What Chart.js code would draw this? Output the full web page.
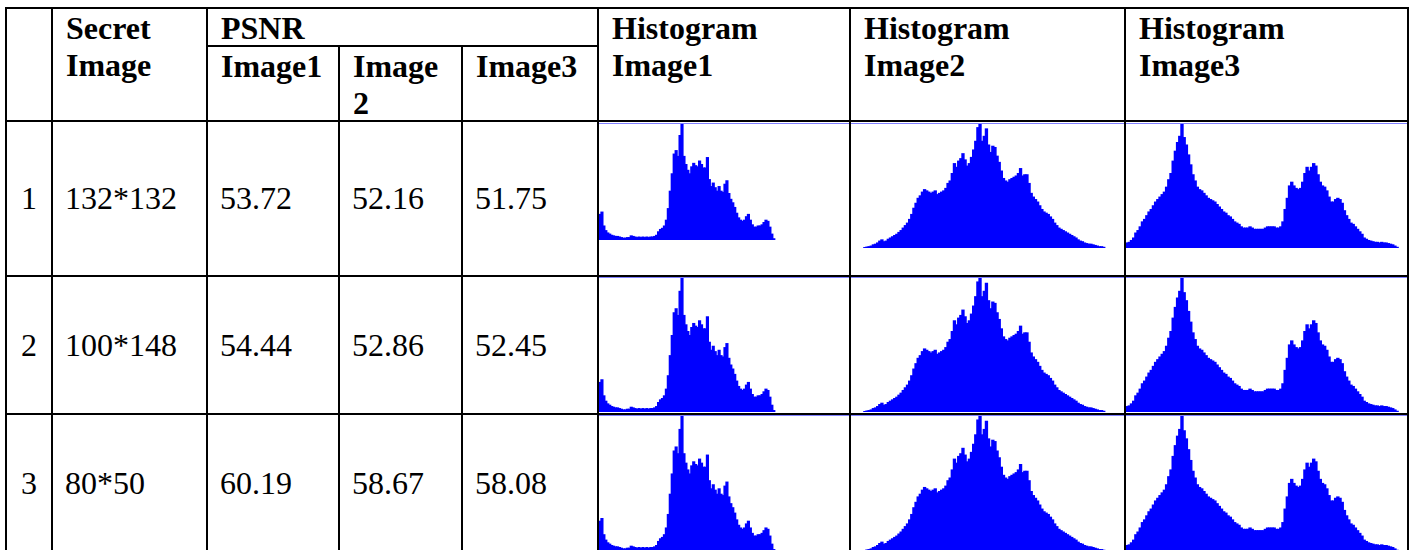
<!DOCTYPE html>
<html>
<head>
<meta charset="utf-8">
<script src="https://cdn.jsdelivr.net/npm/chart.js@4.4.1/dist/chart.umd.min.js"></script>
<style>
  html, body { margin: 0; padding: 0; background: #fff; }
  body { width: 1410px; height: 550px; overflow: hidden; position: relative; color: #000; }
  .cell { position: absolute; box-sizing: border-box; border: 2px solid #000; overflow: hidden;
          font-family: "Liberation Serif", "Times New Roman", serif; }
  .hd { font-weight: bold; font-size: 32px; line-height: 37px; padding: 1px 0 0 13px; }
  .bd { font-size: 32px; display: flex; align-items: center; padding-left: 12px; }
  .bd.center { justify-content: center; padding-left: 0; }
  .hist { position: absolute; border-top: 1px solid #8080ff; box-sizing: border-box; }
  .hist canvas { display: block; }
</style>
</head>
<body>
<div id="grid"></div>
<script>
// table values
const rowIds = ["1", "2", "3"];
const secretSizes = ["132*132", "100*148", "80*50"];
const psnrImage1 = [53.72, 54.44, 60.19];
const psnrImage2 = [52.16, 52.86, 58.67];
const psnrImage3 = [51.75, 52.45, 58.08];

// histograms, 128 bins of 2 gray levels, relative height (peak = 100)
const histImage1 = [
  22, 24, 12, 8, 6, 5, 4, 3.5, 3, 3,
  2.5, 2, 1.5, 1.5, 2, 2, 3.5, 3, 2.5, 2,
  2.5, 2, 2.5, 2, 2.5, 2, 2.5, 2.5, 3, 4,
  7, 9, 10, 12, 17, 27, 42, 57, 74, 77,
  72, 90, 100, 72, 65, 60, 57, 63, 66, 64,
  63, 68, 65, 62, 62, 71, 52, 46, 49, 45,
  42, 46, 42, 41, 48, 51, 40, 35, 32, 28,
  23, 19, 17, 16, 17, 20, 22, 17, 13, 11,
  11, 12, 12, 13, 15, 17, 16, 11, 5, 1,
  0, 0, 0, 0, 0, 0, 0, 0, 0, 0,
  0, 0, 0, 0, 0, 0, 0, 0, 0, 0,
  0, 0, 0, 0, 0, 0, 0, 0, 0, 0,
  0, 0, 0, 0, 0, 0, 0, 0
];
const histImage2 = [
  0, 0, 0, 0, 0, 0, 0.3, 0.7, 1, 1.5,
  2.5, 3, 4, 5.5, 6.5, 5, 5.5, 7, 8, 9,
  10, 11, 12.5, 14, 16, 18, 20, 23, 27, 32,
  36, 40, 42, 45, 47, 46, 45, 44, 45, 46,
  43, 44, 45, 46, 48, 52, 54, 60, 68, 65,
  70, 72, 76, 71, 66, 68, 73, 79, 86, 97,
  100, 86, 90, 96, 83, 77, 82, 81, 74, 69,
  62, 56, 54, 53, 55, 56, 57, 58, 60, 64,
  58, 59, 59, 52, 44, 41, 39, 37, 34, 31,
  29, 28, 27, 25, 23, 20, 18, 16, 15, 14,
  13, 12, 11, 10, 9, 8, 6.5, 5.5, 5, 4,
  3.5, 3, 3, 2.5, 2, 1.5, 1, 1, 0.5, 0,
  0, 0, 0, 0, 0, 0, 0, 0
];
const histImage3 = [
  4, 4.5, 6, 8, 12, 14, 17, 21, 23, 26,
  29, 31, 34, 37, 39, 41, 43, 45, 49, 55,
  60, 70, 78, 85, 90, 100, 89, 83, 75, 67,
  59, 54, 49, 47, 46, 44, 42, 40, 39, 38,
  37, 35, 33, 31, 29, 28, 26, 25, 23, 21,
  20, 19, 17, 16, 16, 16, 17, 16, 15, 15,
  15, 15, 15, 16, 17, 17, 17, 17, 16, 16,
  17, 21, 31, 40, 50, 53, 50, 48, 47, 48,
  53, 60, 65, 62, 65, 68, 66, 59, 53, 50,
  49, 46, 41, 37, 37, 39, 40, 39, 36, 30,
  26, 23, 20, 19, 17, 15, 13, 11, 8, 7,
  6, 5.5, 5, 4.5, 4.5, 4, 4.5, 4, 4, 3.5,
  3, 2.5, 1.5, 0.5, 0, 0, 0, 0
];
const grayLevels = histImage1.map((_, i) => String(i * 2));

// grid lines (border centres)
const colX = [6, 52, 207, 339, 462, 598, 850, 1125, 1408];
const rowY = [8, 46, 121, 276, 414, 552];

const grid = document.getElementById("grid");

function cell(x0, y0, x1, y1, html, cls) {
  const d = document.createElement("div");
  d.className = "cell " + (cls || "");
  d.style.left = (x0 - 1) + "px";
  d.style.top = (y0 - 1) + "px";
  d.style.width = (x1 - x0 + 2) + "px";
  d.style.height = (y1 - y0 + 2) + "px";
  d.innerHTML = html;
  grid.appendChild(d);
  return d;
}

function drawHist(x0, x1, top, bottom, values) {
  const wrap = document.createElement("div");
  wrap.className = "hist";
  wrap.style.left = (x0 + 1) + "px";
  wrap.style.top = top + "px";
  wrap.style.width = (x1 - x0 - 2) + "px";
  wrap.style.height = (bottom - top) + "px";
  const canvas = document.createElement("canvas");
  canvas.width = x1 - x0 - 2;
  canvas.height = bottom - top - 1;
  wrap.appendChild(canvas);
  grid.appendChild(wrap);
  new Chart(canvas.getContext("2d"), {
    type: "bar",
    data: {
      labels: grayLevels,
      datasets: [{
        data: values,
        backgroundColor: (c) => (c.raw > 0 ? "#0000ff" : "rgba(0,0,0,0)"),
        inflateAmount: (c) => (c.raw > 0 ? 0.6 : 0),
        borderWidth: 0, barPercentage: 1, categoryPercentage: 1,
      }],
    },
    options: {
      responsive: false, animation: false, devicePixelRatio: 1,
      layout: { padding: 0 },
      plugins: { legend: { display: false }, tooltip: { enabled: false } },
      scales: {
        x: { display: false },
        y: { display: false, min: 0, max: 100 },
      },
    },
  });
}

// header
cell(colX[0], rowY[0], colX[1], rowY[2], "");
cell(colX[1], rowY[0], colX[2], rowY[2], "Secret<br>Image", "hd");
cell(colX[2], rowY[0], colX[5], rowY[1], "PSNR", "hd");
cell(colX[2], rowY[1], colX[3], rowY[2], "Image1", "hd");
cell(colX[3], rowY[1], colX[4], rowY[2], "Image<br>2", "hd");
cell(colX[4], rowY[1], colX[5], rowY[2], "Image3", "hd");
cell(colX[5], rowY[0], colX[6], rowY[2], "Histogram<br>Image1", "hd");
cell(colX[6], rowY[0], colX[7], rowY[2], "Histogram<br>Image2", "hd");
cell(colX[7], rowY[0], colX[8], rowY[2], "Histogram<br>Image3", "hd");

// body rows
const histTops = [123, 277, 415];
const histBottoms = [[240, 248, 248], [412, 412, 412], [551, 551, 551]];
const histSets = [histImage1, histImage2, histImage3];

rowIds.forEach((id, r) => {
  const y0 = rowY[r + 2], y1 = rowY[r + 3];
  cell(colX[0], y0, colX[1], y1, id, "bd center");
  cell(colX[1], y0, colX[2], y1, secretSizes[r], "bd");
  cell(colX[2], y0, colX[3], y1, psnrImage1[r].toFixed(2), "bd");
  cell(colX[3], y0, colX[4], y1, psnrImage2[r].toFixed(2), "bd");
  cell(colX[4], y0, colX[5], y1, psnrImage3[r].toFixed(2), "bd");
  for (let k = 0; k < 3; k++) {
    cell(colX[5 + k], y0, colX[6 + k], y1, "");
    drawHist(colX[5 + k], colX[6 + k], histTops[r], histBottoms[r][k], histSets[k]);
  }
});
</script>
</body>
</html>
